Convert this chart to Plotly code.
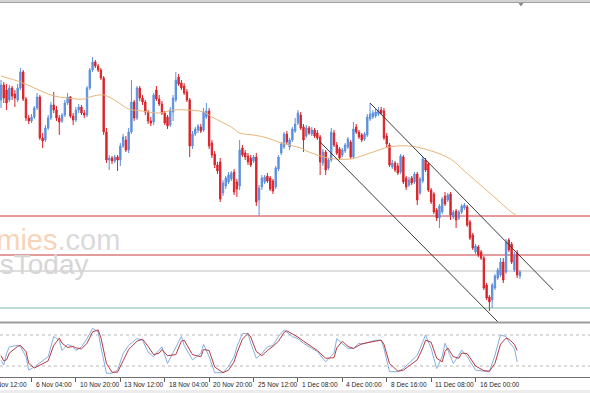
import plotly.graph_objects as go

# ---------------- data (bar index = position on the 4-hour time axis) ----------------
bar_open = [
    222, 237, 232, 222, 234, 228, 222, 234, 250, 223,
    204, 201, 205, 214, 225, 184, 182, 194, 204, 217,
    212, 204, 201, 207, 219, 225, 206, 202, 212, 215,
    209, 207, 234, 252, 260, 256, 252, 244, 190, 162,
    164, 161, 165, 162, 176, 182, 172, 190, 220, 204,
    234, 224, 220, 210, 201, 200, 232, 223, 218, 209,
    205, 197, 210, 222, 245, 239, 236, 230, 222, 176,
    188, 192, 195, 192, 205, 211, 179, 168, 157, 160,
    129, 136, 140, 143, 150, 140, 136, 174, 169, 166,
    164, 161, 165, 122, 135, 140, 146, 144, 141, 135,
    153, 169, 175, 188, 175, 182, 191, 199, 207, 195,
    186, 194, 188, 192, 189, 185, 159, 170, 154, 162,
    189, 177, 173, 167, 171, 175, 180, 165, 195, 190,
    187, 183, 187, 203, 205, 206, 208, 212, 211, 186,
    177, 155, 159, 156, 150, 165, 144, 137, 144, 140,
    148, 129, 141, 162, 158, 132, 128, 112, 104, 110,
    126, 122, 128, 105, 111, 104, 110, 114, 115, 100,
    87, 70, 75, 70, 64, 37, 25, 22, 34, 44,
    47, 60, 50, 82, 78, 52, 69, 46,
]
bar_close = [
    237, 224, 219, 234, 226, 224, 234, 250, 223, 204,
    201, 205, 214, 225, 184, 181, 194, 204, 217, 212,
    204, 200, 207, 219, 225, 206, 202, 212, 215, 209,
    207, 234, 252, 260, 256, 252, 244, 190, 162, 164,
    161, 165, 162, 176, 185, 172, 190, 220, 204, 234,
    224, 220, 210, 201, 199, 227, 223, 218, 209, 199,
    196, 212, 224, 242, 238, 234, 229, 222, 176, 188,
    193, 196, 191, 210, 211, 176, 167, 157, 151, 123,
    139, 144, 147, 149, 130, 133, 172, 167, 165, 160,
    157, 165, 120, 134, 144, 145, 141, 133, 131, 154,
    165, 178, 188, 180, 182, 193, 198, 209, 194, 182,
    194, 189, 192, 186, 184, 160, 170, 152, 162, 190,
    177, 169, 164, 172, 177, 183, 165, 193, 190, 185,
    182, 188, 205, 208, 209, 210, 212, 209, 184, 178,
    157, 159, 152, 149, 166, 140, 135, 142, 139, 148,
    122, 143, 163, 152, 132, 120, 110, 104, 116, 123,
    118, 127, 107, 110, 102, 110, 116, 117, 97, 84,
    74, 76, 67, 64, 34, 24, 20, 37, 46, 52,
    60, 42, 80, 72, 60, 67, 47, 50,
]
bar_high = [
    242, 240, 238, 237, 236, 232, 238, 254, 252, 225,
    207, 208, 216, 229, 227, 189, 197, 207, 220, 230,
    216, 207, 209, 222, 229, 226, 209, 215, 218, 217,
    212, 236, 254, 265, 262, 258, 254, 246, 194, 167,
    166, 167, 167, 179, 188, 186, 194, 242, 222, 236,
    236, 227, 222, 212, 205, 229, 236, 227, 221, 211,
    207, 215, 227, 250, 248, 242, 239, 233, 224, 191,
    195, 198, 198, 214, 219, 214, 182, 171, 160, 164,
    142, 146, 150, 151, 153, 143, 182, 177, 172, 169,
    167, 167, 169, 137, 147, 147, 149, 146, 143, 156,
    167, 180, 190, 191, 184, 195, 204, 212, 210, 198,
    197, 196, 195, 194, 192, 187, 173, 172, 164, 194,
    192, 180, 175, 174, 179, 185, 182, 200, 198, 192,
    189, 190, 208, 219, 212, 213, 215, 215, 214, 189,
    179, 162, 161, 159, 168, 167, 146, 145, 146, 150,
    150, 145, 165, 164, 160, 134, 130, 114, 118, 125,
    130, 129, 130, 112, 113, 112, 118, 119, 117, 102,
    89, 78, 77, 72, 66, 39, 27, 39, 48, 54,
    64, 64, 83, 84, 80, 70, 72, 52,
]
bar_low = [
    214, 219, 212, 220, 222, 215, 220, 232, 221, 201,
    198, 199, 203, 212, 182, 174, 180, 192, 202, 209,
    201, 187, 199, 205, 217, 204, 197, 200, 209, 207,
    204, 205, 232, 250, 254, 250, 242, 187, 159, 152,
    158, 159, 151, 156, 174, 170, 169, 188, 201, 202,
    221, 217, 207, 198, 196, 197, 221, 216, 207, 197,
    193, 195, 201, 220, 236, 232, 227, 220, 165, 173,
    186, 189, 189, 190, 203, 173, 164, 154, 148, 120,
    126, 133, 138, 141, 127, 125, 132, 165, 162, 157,
    155, 159, 116, 106, 132, 138, 139, 131, 128, 133,
    151, 167, 173, 177, 172, 180, 189, 197, 192, 170,
    184, 187, 186, 184, 182, 147, 156, 147, 152, 160,
    175, 167, 162, 165, 169, 173, 163, 163, 188, 183,
    180, 181, 185, 201, 203, 204, 206, 207, 182, 175,
    155, 153, 150, 147, 148, 138, 132, 135, 137, 138,
    117, 127, 139, 150, 130, 118, 108, 101, 94, 108,
    116, 120, 102, 103, 94, 102, 108, 112, 95, 82,
    72, 68, 65, 62, 32, 22, 11, 14, 32, 42,
    45, 39, 48, 70, 58, 50, 44, 43,
]
bars = list(range(len(bar_close)))

# moving average (at sample bars)
ma_bar = [0, 7, 12, 18, 21, 30, 32, 37, 42, 46, 51, 57, 62, 67, 73, 76, 83, 86, 91,
          96, 101, 108, 111, 118, 126, 133, 140, 147, 154, 162, 167, 174, 179, 183, 186]
ma_value = [246, 240, 234, 227, 225, 223, 225, 227, 220, 213, 211, 209, 212, 212, 210, 205,
            195, 189, 187, 184, 179, 174, 170, 164, 163, 169, 175, 176, 172, 163, 151, 134,
            122, 112, 106]

# descending channel (bar, price)
chan_upper_bar = [133, 199]
chan_upper_val = [219, 32]
chan_lower_bar = [115, 179.1]
chan_lower_val = [180, 0]

# horizontal levels
red_levels = [106, 67]
gray_level = 51
green_level = 14

# stochastic oscillator samples
stoch_bar = [0, 1, 2, 3, 6, 7, 9, 10, 12, 14, 17, 19, 21, 22, 24, 26, 27, 29, 31, 33,
             35, 36, 38, 40, 42, 44, 46, 49, 51, 53, 55, 57, 58, 60, 63, 65, 66, 69, 72, 73,
             75, 77, 80, 82, 84, 85, 87, 89, 90, 92, 94, 96, 98, 100, 102, 103, 105, 107, 109, 112,
             114, 117, 120, 121, 123, 125, 127, 129, 130, 135, 137, 138, 140, 143, 145, 147, 150, 152, 153, 155,
             157, 159, 160, 161, 163, 165, 166, 168, 171, 174, 176, 178, 180, 182, 183, 185, 186]
stoch_main = [31, 22, 44, 57, 60, 58, 38, 12, 18, 26, 38, 77, 70, 50, 62, 57, 50, 57, 73, 93,
              86, 57, 6, 6, 12, 44, 60, 73, 70, 47, 38, 51, 57, 25, 57, 77, 60, 32, 44, 62,
              38, 7, 7, 19, 38, 57, 83, 83, 64, 35, 44, 57, 60, 77, 90, 86, 77, 73, 64, 54,
              48, 28, 45, 73, 64, 54, 54, 64, 62, 70, 70, 54, 9, 9, 15, 25, 41, 67, 80, 54,
              15, 38, 64, 51, 25, 41, 51, 38, 12, 10, 9, 41, 80, 77, 67, 54, 28]
stoch_signal = [40, 30, 32, 45, 58, 60, 48, 25, 16, 22, 30, 60, 74, 64, 56, 58, 55, 53, 64, 86,
                90, 75, 25, 8, 8, 30, 52, 68, 72, 58, 42, 45, 52, 40, 42, 68, 70, 42, 38, 52,
                50, 18, 7, 12, 28, 45, 72, 83, 76, 48, 40, 50, 58, 68, 85, 88, 82, 76, 68, 58,
                50, 35, 36, 55, 68, 58, 54, 60, 63, 68, 70, 62, 25, 10, 12, 20, 32, 55, 70, 66,
                35, 28, 48, 55, 38, 35, 45, 44, 20, 11, 10, 25, 62, 74, 72, 62, 50]
stoch_levels = [80, 20]

# time-axis labels
label_bars = [-5, 11, 27, 43, 59, 75, 91, 107, 123, 139, 155, 171]
label_text = ["3 Nov 12:00", "6 Nov 04:00", "10 Nov 20:00", "13 Nov 12:00", "18 Nov 04:00",
              "20 Nov 20:00", "25 Nov 12:00", "1 Dec 08:00", "4 Dec 00:00", "8 Dec 16:00",
              "11 Dec 08:00", "16 Dec 00:00"]

# ---------------- styling ----------------
W, H = 590, 393
BLUE = "#5d90dc"
RED = "#d9232a"
X_RANGE = [-0.36, 212.25]
PX_PER_BAR = W / (X_RANGE[1] - X_RANGE[0])


def py(pix):
    """pixel row (from top) -> paper y"""
    return 1 - pix / H


fig = go.Figure()

fig.add_trace(go.Candlestick(
    x=bars, open=bar_open, high=bar_high, low=bar_low, close=bar_close,
    increasing=dict(line=dict(color=BLUE, width=1), fillcolor=BLUE),
    decreasing=dict(line=dict(color=RED, width=1), fillcolor=RED),
    whiskerwidth=0, hoverinfo="skip", xaxis="x", yaxis="y",
))
fig.add_trace(go.Scatter(x=ma_bar, y=ma_value, mode="lines",
                         line=dict(color="#e8b478", width=1, shape="spline"),
                         hoverinfo="skip", xaxis="x", yaxis="y"))
for cb, cv in ((chan_upper_bar, chan_upper_val), (chan_lower_bar, chan_lower_val)):
    fig.add_trace(go.Scatter(x=cb, y=cv, mode="lines",
                             line=dict(color="#3c3c3c", width=1),
                             hoverinfo="skip", xaxis="x", yaxis="y"))

fig.add_trace(go.Scatter(x=stoch_bar, y=stoch_main, mode="lines",
                         line=dict(color="#86aede", width=1),
                         hoverinfo="skip", xaxis="x", yaxis="y2"))
fig.add_trace(go.Scatter(x=stoch_bar, y=stoch_signal, mode="lines",
                         line=dict(color="#b83a44", width=1),
                         hoverinfo="skip", xaxis="x", yaxis="y2"))

shapes = []
for lv in red_levels:
    shapes.append(dict(type="line", xref="paper", x0=0, x1=1, yref="y", y0=lv, y1=lv,
                       line=dict(color="#c8383c", width=1), layer="below"))
shapes.append(dict(type="line", xref="paper", x0=0, x1=1, yref="y", y0=gray_level, y1=gray_level,
                   line=dict(color="#bdbdbd", width=1), layer="below"))
shapes.append(dict(type="line", xref="paper", x0=0, x1=1, yref="y", y0=green_level, y1=green_level,
                   line=dict(color="#a6cfc6", width=1.5), layer="below"))
for lv in stoch_levels:
    shapes.append(dict(type="line", xref="paper", x0=0, x1=1, yref="y2", y0=lv, y1=lv,
                       line=dict(color="#b8b8b8", width=1, dash="dot"), layer="below"))
# window chrome: top strip, panel separator, bottom strip, shift marker
shapes.append(dict(type="rect", xref="paper", yref="paper", x0=0, x1=1, y0=py(2), y1=1,
                   fillcolor="#d2d2d2", line=dict(width=0)))
shapes.append(dict(type="line", xref="paper", yref="paper", x0=0, x1=1, y0=py(2.5), y1=py(2.5),
                   line=dict(color="#a2a2a2", width=1)))
shapes.append(dict(type="line", xref="paper", yref="paper", x0=0, x1=1, y0=py(322.5), y1=py(322.5),
                   line=dict(color="#9c9c9c", width=2)))
shapes.append(dict(type="rect", xref="paper", yref="paper", x0=0, x1=1, y0=0, y1=py(390),
                   fillcolor="#ececec", line=dict(width=0)))
shapes.append(dict(type="path", xref="paper", yref="paper",
                   path=f"M {518.5/W} {py(3)} L {523.5/W} {py(3)} L {521/W} {py(6.5)} Z",
                   fillcolor="#8a8a8a", line=dict(width=0)))

annotations = []
for b, t in zip(label_bars, label_text):
    xa = max(b, X_RANGE[0])
    annotations.append(dict(x=xa, y=py(384), xref="x", yref="paper", text=t,
                            showarrow=False, xanchor="left", yanchor="middle",
                            xshift=2 + (b - xa) * PX_PER_BAR,
                            font=dict(family="Liberation Sans, Arial", size=6.6, color="#262626")))
annotations.append(dict(x=122 / W, y=py(240), xref="paper", yref="paper",
                        text='<span style="color:#f7d3b8">Economies</span><span style="color:#dadada">.com</span>',
                        showarrow=False, xanchor="right", yanchor="middle",
                        font=dict(family="Liberation Sans, Arial", size=29)))
annotations.append(dict(x=91 / W, y=py(264), xref="paper", yref="paper",
                        text="FXNewsToday", showarrow=False, xanchor="right", yanchor="middle",
                        font=dict(family="Liberation Sans, Arial", size=28, color="#d6d6d6")))

fig.update_layout(
    width=W, height=H, margin=dict(l=0, r=0, t=0, b=0),
    paper_bgcolor="white", plot_bgcolor="white", showlegend=False,
    xaxis=dict(range=X_RANGE, domain=[0, 1], anchor="y2", showgrid=False, zeroline=False,
               showline=True, linecolor="#707070", linewidth=1,
               ticks="outside", tickvals=label_bars, ticklen=4, tickcolor="#606060",
               showticklabels=False, rangeslider=dict(visible=False), fixedrange=True),
    yaxis=dict(domain=[py(322), py(3)], range=[0, 319], visible=False, fixedrange=True),
    yaxis2=dict(domain=[py(377), py(324)], range=[-1.3, 101.3], visible=False, fixedrange=True),
    shapes=shapes, annotations=annotations,
)

fig.write_html("out.html")
